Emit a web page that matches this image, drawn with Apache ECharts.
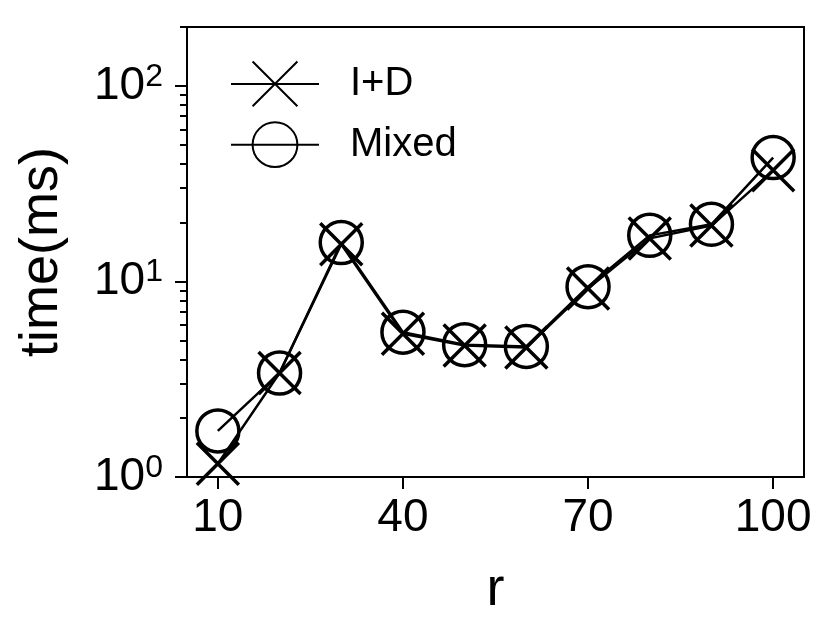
<!DOCTYPE html>
<html>
<head>
<meta charset="utf-8">
<script src="https://cdn.jsdelivr.net/npm/echarts@6/dist/echarts.min.js"></script>
<style>
  html, body { margin: 0; padding: 0; background: #fff; }
  #chart { width: 832px; height: 624px; }
</style>
</head>
<body>
<div id="chart"></div>
<script>
const rValues = [10, 20, 30, 40, 50, 60, 70, 80, 90, 100];
const idTimes = [1.17, 3.4, 15.5, 5.4, 4.7, 4.6, 9.2, 16.6, 19.3, 37];
const mixedTimes = [1.72, 3.4, 15.8, 5.5, 4.75, 4.65, 9.4, 17.2, 19.6, 43];
const xTicks = [10, 40, 70, 100];
const yMajorTicks = [1, 10, 100];
const yMinorTicks = [2, 3, 4, 5, 6, 7, 8, 9, 20, 30, 40, 50, 60, 70, 80, 90, 200];

const FONT = "'Liberation Sans', Arial, Helvetica, sans-serif";
const crossPath = 'path://M0,0L10,10M10,0L0,10';

const chart = echarts.init(document.getElementById('chart'), null, { renderer: 'canvas' });

const pairs = arr => rValues.map((r, i) => [r, arr[i]]);

chart.setOption({
  animation: false,
  backgroundColor: '#fff',
  textStyle: { fontFamily: FONT, color: '#000' },
  grid: {
    left: 187, right: 28, top: 27, bottom: 147,
    show: true,
    borderColor: '#000',
    borderWidth: 2,
    containLabel: false
  },
  legend: {
    left: 225, top: 54,
    orient: 'vertical',
    itemWidth: 88,
    itemHeight: 56,
    itemGap: 11,
    textStyle: { fontSize: 40, fontFamily: FONT, color: '#000', padding: [0, 0, 0, 26] },
    data: ['I+D', 'Mixed']
  },
  xAxis: {
    type: 'value',
    min: 5, max: 105,
    name: 'r',
    nameLocation: 'middle',
    nameGap: 86,
    nameTextStyle: { fontSize: 54, fontFamily: FONT, color: '#000' },
    axisLine: { lineStyle: { color: '#000', width: 2 } },
    axisTick: { customValues: xTicks, length: 12, lineStyle: { color: '#000', width: 2 } },
    axisLabel: { customValues: xTicks, fontSize: 46, margin: 18, color: '#000', fontFamily: FONT },
    splitLine: { show: false }
  },
  yAxis: [
    {
      type: 'log',
      min: 1, max: 200,
      position: 'left',
      name: 'time(ms)',
      nameLocation: 'middle',
      nameGap: 118,
      nameTextStyle: { fontSize: 54, fontFamily: FONT, color: '#000' },
      axisLine: { lineStyle: { color: '#000', width: 2 } },
      axisTick: { customValues: yMajorTicks, length: 12, lineStyle: { color: '#000', width: 2 } },
      axisLabel: {
        customValues: yMajorTicks,
        margin: 24,
        color: '#000',
        formatter: v => '{b|10}{s|' + Math.round(Math.log10(v)) + '}',
        rich: {
          b: { fontSize: 46, fontFamily: FONT, color: '#000' },
          s: { fontSize: 32, fontFamily: FONT, color: '#000', verticalAlign: 'top', padding: [0, 0, 18, 0] }
        }
      },
      splitLine: { show: false }
    },
    {
      type: 'log',
      min: 1, max: 200,
      position: 'left',
      axisLine: { show: false },
      axisTick: { customValues: yMinorTicks, length: 7, lineStyle: { color: '#000', width: 2 } },
      axisLabel: { show: false },
      splitLine: { show: false }
    }
  ],
  series: [
    {
      name: 'I+D',
      type: 'line',
      data: pairs(idTimes),
      symbol: crossPath,
      symbolSize: 42,
      lineStyle: { color: '#000', width: 2.5 },
      itemStyle: { color: 'none', borderColor: '#000', borderWidth: 3.5 }
    },
    {
      name: 'Mixed',
      type: 'line',
      data: pairs(mixedTimes),
      symbol: 'circle',
      symbolSize: 42,
      lineStyle: { color: '#000', width: 2.5 },
      itemStyle: { color: 'none', borderColor: '#000', borderWidth: 3.5 }
    }
  ]
});
</script>
</body>
</html>
